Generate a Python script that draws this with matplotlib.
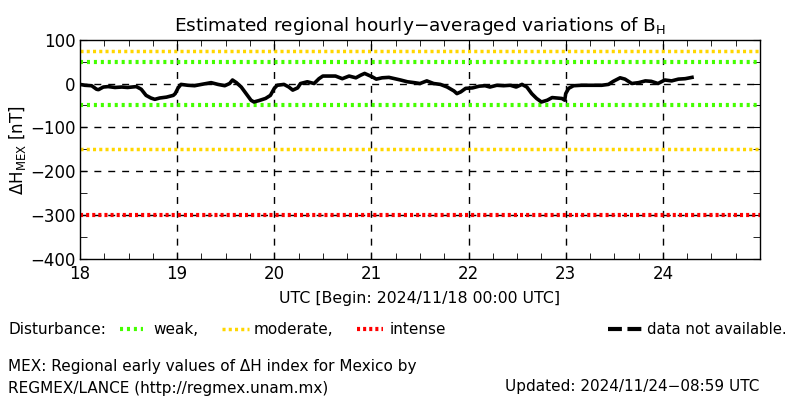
import matplotlib
matplotlib.use("Agg")
import matplotlib.pyplot as plt
from matplotlib.lines import Line2D
import numpy as np

plt.rcParams['font.family'] = ['DejaVu Sans']
plt.rcParams['lines.scale_dashes'] = False

# ---- data (day of November 2024, UTC) ----
days = [18.00,18.05,18.12,18.17,18.19,18.24,18.29,18.36,18.43,18.49,18.58,18.63,18.68,18.73,18.77,
        18.82,18.89,18.96,18.98,19.01,19.04,19.11,19.18,19.25,19.35,19.42,19.49,19.54,19.57,19.61,
        19.66,19.71,19.76,19.79,19.84,19.91,19.96,20.00,20.03,20.10,20.15,20.19,20.24,20.27,20.34,
        20.41,20.46,20.50,20.56,20.63,20.70,20.77,20.84,20.89,20.93,20.96,21.01,21.05,21.11,21.18,21.24,
        21.30,21.37,21.44,21.50,21.57,21.64,21.71,21.78,21.85,21.88,21.92,21.97,22.04,22.11,22.17,
        22.22,22.29,22.36,22.43,22.49,22.55,22.60,22.65,22.70,22.75,22.81,22.86,
        22.91,22.96,22.99,23.00,23.03,23.08,23.16,23.27,23.37,23.44,23.49,23.56,23.61,23.68,23.75,
        23.82,23.88,23.95,24.02,24.09,24.16,24.23,24.30]
dH = [-2,-4,-5,-13,-14,-8,-7,-9,-8,-9,-7,-13,-27,-33,-36,
      -33,-31,-27,-23,-10,-2,-4,-5,-2,2,-2,-5,0,8,2,
      -8,-23,-38,-42,-39,-34,-27,-11,-4,-2,-8,-15,-10,0,4,
      0,11,17,17,17,11,17,13,19,23,20,15,10,13,14,11,
      8,4,2,0,6,0,-2,-8,-17,-23,-19,-11,-10,-6,-5,
      -8,-4,-5,-4,-8,-2,-8,-23,-34,-42,-38,-32,
      -33,-34,-38,-23,-11,-5,-4,-4,-4,-2,5,13,10,0,2,
      6,5,0,8,6,10,11,14]

weak_levels = [50, -50]
moderate_levels = [75, -150]
intense_levels = [-300]

x_ticks = [18, 19, 20, 21, 22, 23, 24]
y_ticks = [100, 0, -100, -200, -300, -400]

GREEN = '#44ff00'
YELLOW = '#ffd700'
RED = '#ff0000'

fig = plt.figure(figsize=(8, 4), dpi=100)
ax = fig.add_axes([0.1, 0.352, 0.85, 0.549])
ax.set_xlim(18, 25)
ax.set_ylim(-400, 100)

# grid
for d in x_ticks[1:]:
    ax.axvline(d, color='black', lw=1, ls=(0, (5, 5)), zorder=1)
for y in [0, -100, -200, -300]:
    ax.axhline(y, color='black', lw=1, ls=(0, (5, 5)), zorder=1)

for y in weak_levels:
    ax.axhline(y, color=GREEN, lw=3, ls=(0, (2.2, 2.8)), zorder=2)
for y in moderate_levels:
    ax.axhline(y, color=YELLOW, lw=2.5, ls=(0, (2.2, 2.3)), zorder=2)
for y in intense_levels:
    ax.axhline(y, color=RED, lw=3, ls=(0, (2.2, 2.2)), zorder=2)

ax.plot(days, dH, color='black', lw=2.6, zorder=3)

ax.set_xticks(x_ticks)
ax.set_xticks(np.arange(18, 25.01, 0.25), minor=True)
ax.set_yticks(y_ticks)
ax.set_yticks(np.arange(-400, 101, 50), minor=True)
ax.set_yticklabels(['100', '0', '\u2212100', '\u2212200', '\u2212300', '\u2212400'])
ax.tick_params(axis='both', which='both', direction='in', colors='black', labelsize=12)
ax.tick_params(axis='x', which='both', top=True, bottom=True, length=4, pad=4)
ax.tick_params(axis='y', which='both', left=True, right=True, length=5, pad=3)
for s in ax.spines.values():
    s.set_linewidth(1)

ax.set_title('Estimated regional hourly\u2212averaged variations of B$_\\mathregular{H}$',
             fontsize=13.3, pad=6)

fig.text(18/800, 1 - 150/400, '\u0394H$_\\mathregular{MEX}$ [nT]', rotation=90,
         ha='center', va='center', fontsize=12)

# overlay in pixel coordinates for texts and legend
ov = fig.add_axes([0, 0, 1, 1], zorder=5)
ov.set_xlim(0, 800)
ov.set_ylim(400, 0)
ov.axis('off')
ov.patch.set_alpha(0)

fs = 11
ov.text(420, 298, 'UTC [Begin: 2024/11/18 00:00 UTC]', ha='center', va='center', fontsize=11.3)
ov.text(8, 329, 'Disturbance:', ha='left', va='center', fontsize=fs)
ov.add_line(Line2D([120, 143], [329, 329], color=GREEN, lw=3, ls=(0, (2.2, 2.8))))
ov.text(153, 329, 'weak,', ha='left', va='center', fontsize=fs)
ov.add_line(Line2D([222, 249], [329, 329], color=YELLOW, lw=2.5, ls=(0, (2.2, 2.3))))
ov.text(254, 329, 'moderate,', ha='left', va='center', fontsize=fs)
ov.add_line(Line2D([357, 383], [329, 329], color=RED, lw=3, ls=(0, (2.2, 2.2))))
ov.text(390, 329, 'intense', ha='left', va='center', fontsize=fs)
ov.add_line(Line2D([608, 643], [329, 329], color='black', lw=3, ls=(0, (10, 4))))
ov.text(647, 329, 'data not available.', ha='left', va='center', fontsize=10.7)
ov.text(8, 367, 'MEX: Regional early values of \u0394H index for Mexico by',
        ha='left', va='center', fontsize=fs)
ov.text(8, 389, 'REGMEX/LANCE (http://regmex.unam.mx)', ha='left', va='center', fontsize=fs)
ov.text(759, 386, 'Updated: 2024/11/24\u221208:59 UTC', ha='right', va='center', fontsize=fs)

fig.savefig('out.png', dpi=100)
